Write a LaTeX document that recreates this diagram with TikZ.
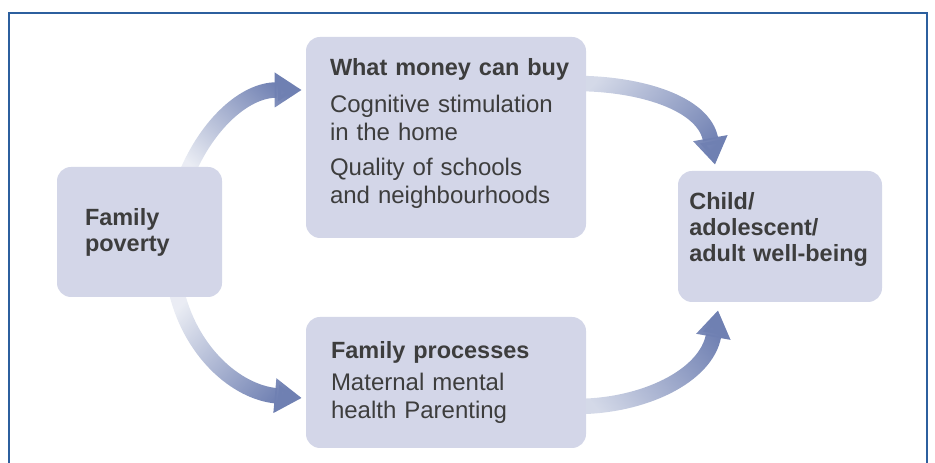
\documentclass[tikz,border=0pt]{standalone}
\usepackage{fontspec}
\setmainfont{Liberation Sans}
\usetikzlibrary{arrows.meta,calc,fadings}

\definecolor{boxfill}{HTML}{D3D6E8}
\definecolor{boxtext}{HTML}{3D3D3D}
\definecolor{flowblue}{HTML}{6F80B2}
\definecolor{framecol}{HTML}{2C5F9E}

\newcommand{\headfont}{\fontsize{17.6}{19.5}\selectfont\bfseries}
\newcommand{\bodyfont}{\fontsize{18}{21}\selectfont}

\tikzfading[name=flowfade, left color=transparent!85, right color=transparent!0]
\tikzfading[name=flowfadeb, left color=transparent!70, right color=transparent!0]

\pgfdeclarelayer{back}
\pgfsetlayers{back,main}

\begin{document}
\begin{tikzpicture}[x=0.75pt,y=0.75pt,
    box/.style={rectangle, rounded corners=10.5pt, fill=boxfill, text=boxtext,
                align=left, inner sep=0pt},
    flow/.style={line width=11.6pt, draw=flowblue,
                 -{Triangle[width=24.75pt,length=20.25pt]}}]
    \useasboundingbox (0,0) rectangle (935,463);
    \draw[framecol, line width=1.5pt] (8.7,0) -- (8.7,450) -- (927,450) -- (927,0);

    \node[box, minimum width=123.75pt, minimum height=97.5pt, text width=81.75pt,
          font=\headfont] (pov) at (139.5,231) {Family\\ poverty};
    \node[box, minimum width=210pt, minimum height=150.75pt, text width=186pt,
          font=\bodyfont] (buy) at (446,325.5)
          {\leftskip=6pt{\headfont What money can buy}\\[6.75pt]
           Cognitive stimulation\\ in the home\\[5.25pt]
           Quality of schools\\ and neighbourhoods\\[-11pt]\mbox{}};
    \node[box, minimum width=210pt, minimum height=98.25pt, text width=172.5pt,
          font=\bodyfont] (proc) at (446,80.5)
          {{\headfont Family processes}\\[3pt]
           Maternal mental\\ health Parenting};
    \node[box, minimum width=153pt, minimum height=98.25pt, text width=136pt,
          font=\headfont] (well) at (780,226.5)
          {Child/\\ adolescent/\\ adult well-being\\[-5pt]\mbox{}};

    % arrows behind the boxes
    \begin{pgfonlayer}{back}
        \draw[flow, path fading=flowfade, fading angle=40]
            ($(pov.north)+(46,-10)$) to[out=68,in=180] ($(buy.west)+(-4,47.5)$);
        \draw[flow, path fading=flowfade, fading angle=-40]
            ($(pov.south)+(36,10)$) to[out=-78,in=175] ($(proc.west)+(-4,-15.5)$);
        \draw[flow, path fading=flowfadeb, fading angle=-30]
            ($(buy.east)+(-10,54)$) to[out=0,in=100] ($(well.north)+(-65,6)$);
        \draw[flow, path fading=flowfadeb, fading angle=30]
            ($(proc.east)+(-10,-24)$) to[out=0,in=-100] ($(well.south)+(-62,-8)$);
    \end{pgfonlayer}
\end{tikzpicture}
\end{document}
